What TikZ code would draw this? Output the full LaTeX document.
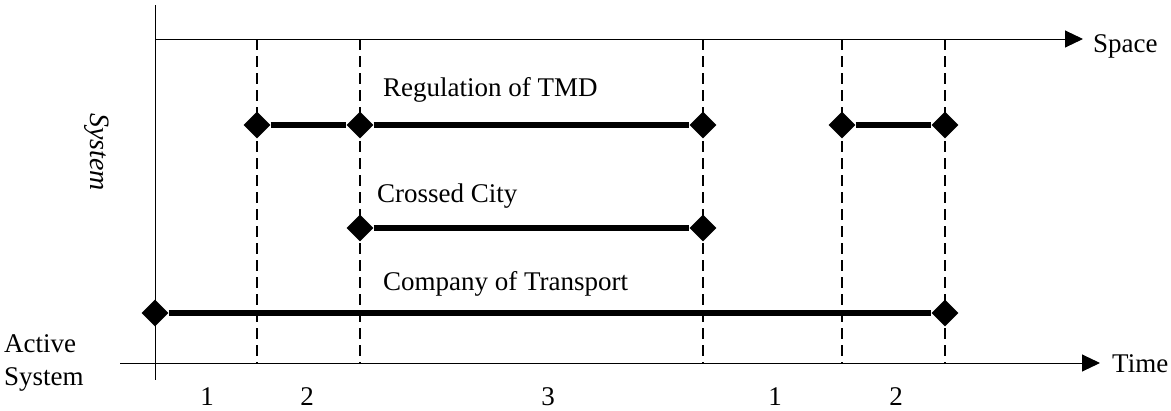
\documentclass[tikz,border=0pt]{standalone}
\usepackage{fontspec}
\setmainfont{Liberation Serif}
\usetikzlibrary{arrows.meta,shapes.geometric}
\begin{document}
\begin{tikzpicture}[x=1pt,y=-1pt,
  axis/.style={line width=1pt, draw=black},
  arrowaxis/.style={axis, -{Triangle[length=18pt,width=17pt]}},
  guide/.style={line width=1.7pt, dash pattern=on 11pt off 6pt},
  span/.style={line width=6pt},
  pin/.style={diamond, fill=black, inner sep=0pt, minimum width=27pt, minimum height=27pt},
  lbl/.style={inner sep=0pt, anchor=base west, font=\fontsize{27}{33}\selectfont},
  num/.style={inner sep=0pt, anchor=base, font=\fontsize{27}{33}\selectfont}]
  \useasboundingbox (0,0) rectangle (1171,410);

  % axes
  \coordinate (ytop) at (155,5);
  \coordinate (ybot) at (155,380);
  \coordinate (sstart) at (155,39);
  \coordinate (send) at (1083,39);
  \coordinate (tstart) at (120,363);
  \coordinate (tend) at (1100,363);
  \draw[axis] (ytop) -- (ybot);
  \draw[arrowaxis] (sstart) -- (send);
  \draw[arrowaxis] (tstart) -- (tend);
  \node[lbl] (space) at (1093,52) {Space};
  \node[lbl] (time) at (1112,372) {Time};
  \node[inner sep=0pt, rotate=-90, font=\fontsize{28}{33}\selectfont\itshape] (sys) at (97,152) {System};
  \node[lbl, align=left, anchor=base west] (active) at (4,385) {Active\\System};

  % phase boundaries
  \foreach \n/\x in {a/257,b/360,c/703,d/842,e/945}{
    \coordinate (top\n) at (\x,39);
    \coordinate (bot\n) at (\x,363);
    \draw[guide] (top\n) -- (bot\n);
  }

  % regulation of TMD
  \node[lbl] (reglbl) at (383,96) {Regulation of TMD};
  \node[pin] (r1) at (257,125) {};
  \node[pin] (r2) at (360,125) {};
  \node[pin] (r3) at (703,125) {};
  \node[pin] (r4) at (842,125) {};
  \node[pin] (r5) at (945,125) {};
  \draw[span] (r1) -- (r2);
  \draw[span] (r2) -- (r3);
  \draw[span] (r4) -- (r5);

  % crossed city
  \node[lbl] (citylbl) at (377,202) {Crossed City};
  \node[pin] (c1) at (360,228) {};
  \node[pin] (c2) at (703,228) {};
  \draw[span] (c1) -- (c2);

  % company of transport
  \node[lbl] (comlbl) at (383,290) {Company of Transport};
  \node[pin] (k1) at (155,313) {};
  \node[pin] (k2) at (945,313) {};
  \draw[span] (k1) -- (k2);

  % phase numbers
  \node[num] (p1) at (207,405) {1};
  \node[num] (p2) at (307,405) {2};
  \node[num] (p3) at (548,405) {3};
  \node[num] (p4) at (775,405) {1};
  \node[num] (p5) at (896,405) {2};
\end{tikzpicture}
\end{document}
